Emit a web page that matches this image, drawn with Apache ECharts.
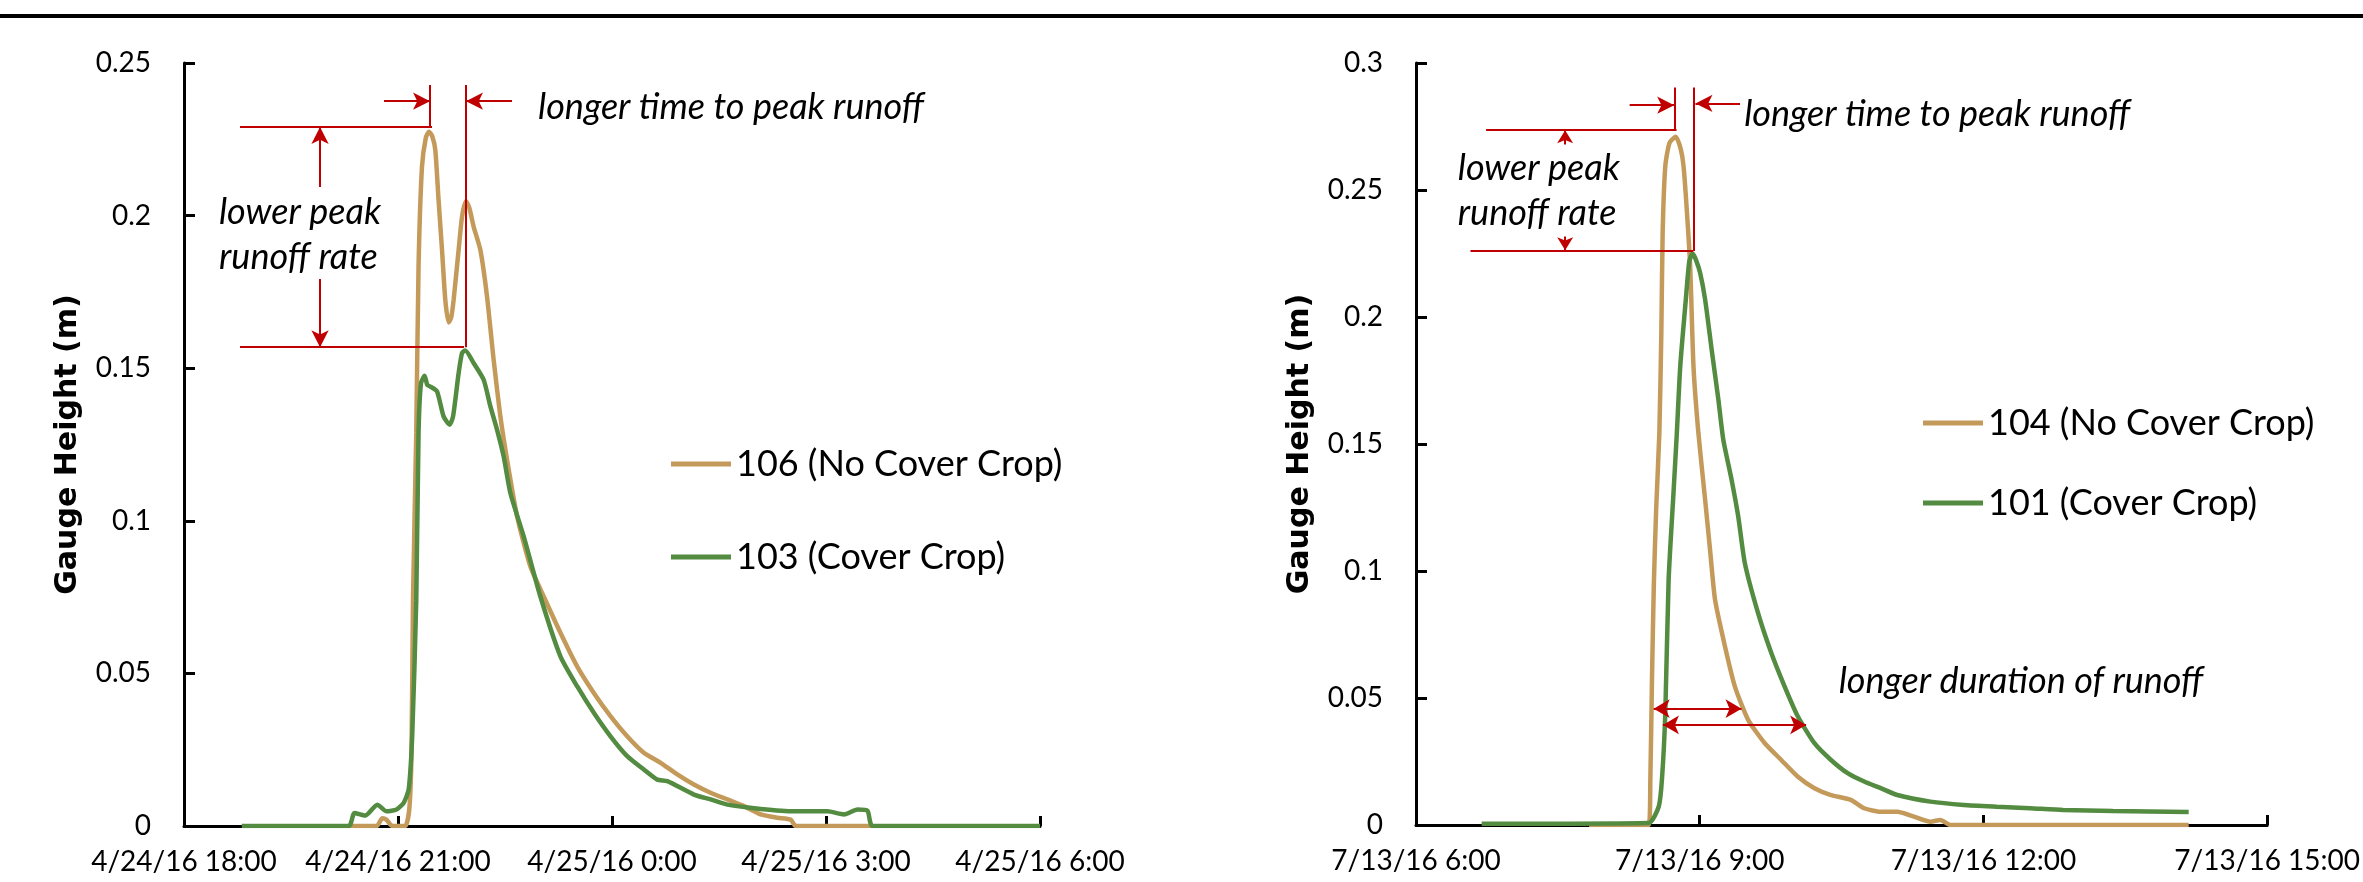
<!DOCTYPE html>
<html>
<head>
<meta charset="utf-8">
<title>Gauge height, cover crop vs no cover crop</title>
<script src="https://cdn.jsdelivr.net/npm/echarts@6.0.0/dist/echarts.min.js"></script>
<style>
  html, body { margin: 0; padding: 0; background: #fff; }
  #chart { width: 2363px; height: 882px; }
</style>
</head>
<body>
<div id="chart"></div>
<script>
// Left event: hours after 4/24/16 0:00
const t106 = [20.31, 20.70, 20.78, 20.84, 20.92, 21.10, 21.16, 21.19, 21.21, 21.256, 21.288, 21.336, 21.39, 21.434, 21.48, 21.523, 21.569, 21.617, 21.663, 21.709, 21.745, 21.780, 21.850, 21.898, 21.954, 22.00, 22.06, 22.154, 22.248, 22.341, 22.435, 22.529, 22.67, 22.856, 23.043, 23.277, 23.511, 23.745, 23.979, 24.213, 24.446, 24.681, 24.915, 25.148, 25.382, 25.617, 25.85, 26.084, 26.319, 26.505, 26.576, 27.652];
const v106 = [0, 0, 0.0025, 0.002, 0, 0, 0.006, 0.025, 0.074, 0.1288, 0.1833, 0.216, 0.2255, 0.2275, 0.226, 0.2215, 0.205, 0.1888, 0.1724, 0.165, 0.1665, 0.1724, 0.1888, 0.1997, 0.2047, 0.2025, 0.1964, 0.1888, 0.1735, 0.1527, 0.1342, 0.12, 0.1014, 0.085, 0.0752, 0.0633, 0.0523, 0.0436, 0.036, 0.0294, 0.024, 0.0207, 0.0169, 0.0136, 0.0109, 0.0087, 0.0065, 0.0038, 0.0027, 0.0021, 0, 0];

const t103 = [18.81, 20.31, 20.39, 20.54, 20.71, 20.84, 20.98, 21.08, 21.15, 21.20, 21.256, 21.288, 21.322, 21.373, 21.41, 21.453, 21.547, 21.639, 21.724, 21.77, 21.804, 21.850, 21.898, 21.944, 22.06, 22.201, 22.295, 22.389, 22.481, 22.575, 22.762, 22.996, 23.277, 23.511, 23.745, 23.979, 24.213, 24.446, 24.634, 24.775, 25.148, 25.382, 25.617, 26.084, 26.552, 27.02, 27.253, 27.441, 27.582, 27.652, 30];
const v103 = [0, 0, 0.0043, 0.0034, 0.007, 0.0048, 0.0054, 0.0076, 0.012, 0.03, 0.074, 0.1288, 0.1451, 0.1475, 0.1445, 0.144, 0.1424, 0.1342, 0.1315, 0.134, 0.1397, 0.1484, 0.155, 0.1558, 0.1517, 0.1462, 0.1375, 0.1298, 0.1211, 0.1091, 0.0949, 0.0752, 0.0556, 0.0458, 0.0371, 0.0294, 0.0229, 0.0185, 0.0152, 0.0147, 0.0103, 0.0087, 0.007, 0.0056, 0.0048, 0.0048, 0.0038, 0.0054, 0.005, 0, 0];

// Right event: hours after 7/13/16 0:00
const t104 = [7.83, 8.46, 8.478, 8.495, 8.515, 8.540, 8.573, 8.594, 8.608, 8.636, 8.68, 8.748, 8.80, 8.829, 8.863, 8.899, 8.934, 8.986, 9.057, 9.109, 9.162, 9.267, 9.372, 9.512, 9.688, 9.862, 10.038, 10.213, 10.388, 10.598, 10.739, 10.914, 11.089, 11.265, 11.44, 11.545, 11.65, 14.17];
const v104 = [0, 0, 0.018, 0.057, 0.095, 0.125, 0.1543, 0.1937, 0.2331, 0.2594, 0.2685, 0.271, 0.266, 0.2594, 0.2423, 0.22, 0.1806, 0.1543, 0.1281, 0.1084, 0.0887, 0.0703, 0.0545, 0.0414, 0.0322, 0.0256, 0.019, 0.0145, 0.0118, 0.0099, 0.0066, 0.0052, 0.0052, 0.0033, 0.0013, 0.002, 0, 0];

const t101 = [6.694, 8.46, 8.566, 8.600, 8.636, 8.671, 8.723, 8.758, 8.794, 8.853, 8.89, 8.926, 8.96, 9.004, 9.057, 9.126, 9.197, 9.249, 9.337, 9.407, 9.477, 9.617, 9.757, 9.898, 10.038, 10.213, 10.388, 10.564, 10.739, 10.914, 11.089, 11.44, 11.791, 12.141, 12.491, 12.842, 13.368, 14.17];
const v101 = [0.0005, 0.0008, 0.0072, 0.0177, 0.044, 0.0965, 0.131, 0.1543, 0.1806, 0.2069, 0.222, 0.225, 0.2225, 0.2174, 0.2069, 0.1872, 0.1675, 0.1517, 0.1359, 0.1215, 0.1031, 0.0834, 0.0677, 0.0545, 0.0427, 0.0322, 0.0256, 0.0204, 0.0171, 0.0145, 0.0118, 0.0092, 0.0079, 0.0072, 0.0066, 0.0059, 0.0055, 0.0051];

const leftTicks = ['4/24/16 18:00', '4/24/16 21:00', '4/25/16 0:00', '4/25/16 3:00', '4/25/16 6:00'];
const rightTicks = ['7/13/16 6:00', '7/13/16 9:00', '7/13/16 12:00', '7/13/16 15:00'];

const TAN = '#C49A5B';
const GREEN = '#538B41';
const RED = '#C00000';
const FONT = 'Lato';

const pairs = (t, v) => t.map((x, i) => [x, v[i]]);

// one red segment, optionally with arrow heads at either end
function seg(from, to, headFrom, headTo, size) {
  return [
    { coord: from, symbol: headFrom ? 'arrow' : 'none', symbolSize: size },
    { coord: to, symbol: headTo ? 'arrow' : 'none', symbolSize: size }
  ];
}

function marks(lines) {
  return {
    silent: true, animation: false, symbol: 'none',
    lineStyle: { color: RED, width: 2, type: 'solid' },
    label: { show: false },
    emphasis: { disabled: true },
    data: lines
  };
}

function notes(items) {
  return {
    silent: true, animation: false, symbol: 'circle', symbolSize: 0,
    itemStyle: { color: 'transparent' },
    label: {
      show: true, position: 'right', distance: 0, formatter: '{b}',
      color: '#000', fontFamily: FONT, fontStyle: 'italic', fontSize: 36, lineHeight: 45
    },
    data: items.map(d => ({ name: d[0], coord: d[1] }))
  };
}

const AH = [13, 17];   // arrow head
const SH = [12, 13];   // small head
const DH = [14, 16];   // duration arrows

const chart = echarts.init(document.getElementById('chart'));

const xAxisBase = {
  type: 'value', interval: 3,
  axisLine: { show: true, onZero: true, lineStyle: { color: '#000', width: 3 } },
  axisTick: { show: true, inside: true, length: 10, lineStyle: { color: '#000', width: 3 } },
  splitLine: { show: false },
  axisLabel: { color: '#000', fontFamily: FONT, fontSize: 28, margin: 22, showMinLabel: true, showMaxLabel: true }
};
const yAxisBase = {
  type: 'value', min: 0, interval: 0.05,
  name: 'Gauge Height (m)', nameLocation: 'middle', nameGap: 101,
  nameTextStyle: { color: '#000', fontFamily: 'DejaVu Sans', fontWeight: 'bold', fontSize: 30 },
  axisLine: { show: true, lineStyle: { color: '#000', width: 3 } },
  axisTick: { show: true, inside: true, length: 11, lineStyle: { color: '#000', width: 3 } },
  splitLine: { show: false },
  axisLabel: { color: '#000', fontFamily: FONT, fontSize: 28, margin: 33 }
};
const lineBase = { type: 'line', showSymbol: false, symbol: 'none', smooth: 0.2, silent: true, animation: false };
const legendBase = {
  orient: 'vertical', icon: 'rect', itemWidth: 60, itemHeight: 5, selectedMode: false,
  textStyle: { color: '#000', fontFamily: FONT, fontSize: 36, lineHeight: 40 }
};

chart.setOption({
  backgroundColor: '#fff',
  animation: false,
  graphic: [{ type: 'rect', left: 0, top: 14, shape: { width: 2363, height: 4 }, style: { fill: '#000' } }],
  grid: [
    { left: 184, right: 1323, top: 63, bottom: 56 },
    { left: 1416, right: 91, top: 63, bottom: 57 }
  ],
  xAxis: [
    Object.assign({}, xAxisBase, { gridIndex: 0, min: 18, max: 30,
      axisLabel: Object.assign({}, xAxisBase.axisLabel, { formatter: v => leftTicks[Math.round((v - 18) / 3)] }) }),
    Object.assign({}, xAxisBase, { gridIndex: 1, min: 6, max: 15,
      axisLabel: Object.assign({}, xAxisBase.axisLabel, { formatter: v => rightTicks[Math.round((v - 6) / 3)] }) })
  ],
  yAxis: [
    Object.assign({}, yAxisBase, { gridIndex: 0, max: 0.25 }),
    Object.assign({}, yAxisBase, { gridIndex: 1, max: 0.3 })
  ],
  legend: [
    Object.assign({}, legendBase, { left: 666, top: 439, itemGap: 53, data: ['106 (No Cover Crop)', '103 (Cover Crop)'] }),
    Object.assign({}, legendBase, { left: 1918, top: 398, itemGap: 40, data: ['104 (No Cover Crop)', '101 (Cover Crop)'] })
  ],
  series: [
    Object.assign({}, lineBase, {
      name: '106 (No Cover Crop)', xAxisIndex: 0, yAxisIndex: 0, data: pairs(t106, v106),
      lineStyle: { color: TAN, width: 4.5 }, itemStyle: { color: TAN },
      markPoint: notes([
        ['longer time to peak runoff', [22.963, 0.2353]],
        ['lower peak\nrunoff rate', [18.491, 0.1938]]
      ])
    }),
    Object.assign({}, lineBase, {
      name: '103 (Cover Crop)', xAxisIndex: 0, yAxisIndex: 0, data: pairs(t103, v103),
      lineStyle: { color: GREEN, width: 4.5 }, itemStyle: { color: GREEN },
      markLine: marks([
        seg([18.785, 0.2290], [21.477, 0.2290]),
        seg([18.785, 0.1569], [21.925, 0.1569]),
        seg([21.449, 0.2428], [21.449, 0.2290]),
        seg([21.953, 0.2428], [21.953, 0.1569]),
        seg([20.804, 0.2375], [21.449, 0.2375], false, true, AH),
        seg([22.598, 0.2375], [21.953, 0.2375], false, true, AH),
        seg([19.907, 0.2094], [19.907, 0.2290], false, true, AH),
        seg([19.907, 0.1792], [19.907, 0.1569], false, true, AH)
      ])
    }),
    Object.assign({}, lineBase, {
      name: '104 (No Cover Crop)', xAxisIndex: 1, yAxisIndex: 1, data: pairs(t104, v104),
      lineStyle: { color: TAN, width: 4.5 }, itemStyle: { color: TAN },
      markPoint: notes([
        ['longer time to peak runoff', [9.470, 0.2797]],
        ['lower peak\nrunoff rate', [6.442, 0.2496]],
        ['longer duration of runoff', [10.469, 0.0565]]
      ])
    }),
    Object.assign({}, lineBase, {
      name: '101 (Cover Crop)', xAxisIndex: 1, yAxisIndex: 1, data: pairs(t101, v101),
      lineStyle: { color: GREEN, width: 4.5 }, itemStyle: { color: GREEN },
      markLine: marks([
        seg([6.741, 0.2737], [8.755, 0.2737]),
        seg([6.576, 0.2260], [8.931, 0.2260]),
        seg([8.741, 0.2904], [8.741, 0.2737]),
        seg([8.934, 0.2904], [8.934, 0.2260]),
        seg([8.259, 0.2834], [8.730, 0.2834], false, true, AH),
        seg([9.426, 0.2841], [8.955, 0.2841], false, true, AH),
        seg([7.577, 0.2679], [7.577, 0.2735], false, true, SH),
        seg([7.577, 0.2317], [7.577, 0.2263], false, true, SH),
        seg([8.513, 0.0458], [9.442, 0.0458], true, true, DH),
        seg([8.611, 0.0394], [10.125, 0.0394], true, true, DH)
      ])
    })
  ]
});
</script>
</body>
</html>
